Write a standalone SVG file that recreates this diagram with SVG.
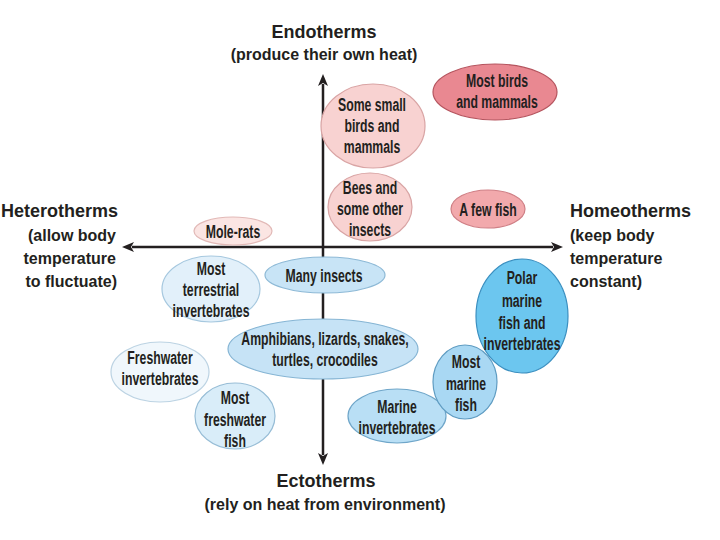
<svg xmlns="http://www.w3.org/2000/svg" width="720" height="540" viewBox="0 0 720 540">
<style>
.hd{font-family:"Liberation Sans",Arial,sans-serif;font-weight:bold;font-size:18px;fill:#231f20}
.sub{font-family:"Liberation Sans",Arial,sans-serif;font-weight:bold;font-size:16px;fill:#231f20}
.t{font-family:"Liberation Sans",Arial,sans-serif;font-weight:bold;font-size:19px;fill:#231f20;text-anchor:middle}
.ax{stroke:#231f20;stroke-width:2.5;fill:none}
ellipse{stroke-width:1.2}
</style>
<defs>
<marker id="ah" viewBox="0 0 12 10" refX="2" refY="5" markerWidth="12" markerHeight="10" markerUnits="userSpaceOnUse" orient="auto-start-reverse">
<path d="M0,0 L12,5 L0,10 L3,5 Z" fill="#231f20"/>
</marker>
</defs>
<rect width="720" height="540" fill="#ffffff"/>
<g id="connectors">
<line class="ax" x1="323" y1="455" x2="323" y2="84" marker-end="url(#ah)" marker-start="url(#ah)"/>
<line class="ax" x1="132" y1="247" x2="553" y2="247" marker-end="url(#ah)" marker-start="url(#ah)"/>
</g>
<g id="label-endotherms">
<text class="hd" x="324" y="38" text-anchor="middle">Endotherms</text>
<text class="sub" x="324" y="60" text-anchor="middle">(produce their own heat)</text>
</g>
<g id="label-heterotherms">
<text class="hd" x="118" y="217" text-anchor="end">Heterotherms</text>
<text class="sub" x="116" y="241" text-anchor="end">(allow body</text>
<text class="sub" x="116" y="264" text-anchor="end">temperature</text>
<text class="sub" x="117" y="287" text-anchor="end">to fluctuate)</text>
</g>
<g id="label-homeotherms">
<text class="hd" x="570" y="217">Homeotherms</text>
<text class="sub" x="570" y="241">(keep body</text>
<text class="sub" x="570" y="264">temperature</text>
<text class="sub" x="570" y="287">constant)</text>
</g>
<g id="label-ectotherms">
<text class="hd" x="326" y="487" text-anchor="middle">Ectotherms</text>
<text class="sub" x="325" y="510" text-anchor="middle">(rely on heat from environment)</text>
</g>
<g id="most-birds">
<ellipse cx="495" cy="92" rx="62" ry="28" fill="#e98891" stroke="#b5545e"/>
<g transform="translate(497,0) scale(0.645,1)">
<text class="t" x="0" y="87">Most birds</text>
<text class="t" x="0" y="108">and mammals</text>
</g>
</g>
<g id="some-small-birds">
<ellipse cx="373" cy="126" rx="52" ry="42" fill="#f8d2d1" stroke="#d9a4a4"/>
<g transform="translate(372,0) scale(0.645,1)">
<text class="t" x="0" y="111">Some small</text>
<text class="t" x="0" y="132">birds and</text>
<text class="t" x="0" y="153">mammals</text>
</g>
</g>
<g id="bees">
<ellipse cx="370" cy="207" rx="42" ry="34" fill="#f8d2d1" stroke="#d9a4a4"/>
<g transform="translate(370,0) scale(0.645,1)">
<text class="t" x="0" y="194">Bees and</text>
<text class="t" x="0" y="215">some other</text>
<text class="t" x="0" y="236">insects</text>
</g>
</g>
<g id="few-fish">
<ellipse cx="488" cy="209" rx="37" ry="19" fill="#f2a9ac" stroke="#cf7f85"/>
<g transform="translate(488,0) scale(0.645,1)">
<text class="t" x="0" y="216">A few fish</text>
</g>
</g>
<g id="mole-rats">
<ellipse cx="233" cy="231" rx="39" ry="14" fill="#fbe5e3" stroke="#e2b9b7"/>
<g transform="translate(233,0) scale(0.645,1)">
<text class="t" x="0" y="238">Mole-rats</text>
</g>
</g>
<g id="many-insects">
<ellipse cx="325" cy="275" rx="60" ry="18" fill="#c8e4f6" stroke="#8db9d6"/>
<g transform="translate(324,0) scale(0.645,1)">
<text class="t" x="0" y="282">Many insects</text>
</g>
</g>
<g id="terrestrial-inverts">
<ellipse cx="211" cy="289" rx="49" ry="33" fill="#e2f0fa" stroke="#a6c8df"/>
<g transform="translate(211,0) scale(0.645,1)">
<text class="t" x="0" y="275">Most</text>
<text class="t" x="0" y="296">terrestrial</text>
<text class="t" x="0" y="317">invertebrates</text>
</g>
</g>
<g id="amphibians">
<ellipse cx="323" cy="349" rx="95" ry="30" fill="#c6e3f6" stroke="#86b5d4"/>
<g transform="translate(325,0) scale(0.645,1)">
<text class="t" x="0" y="345">Amphibians, lizards, snakes,</text>
<text class="t" x="0" y="366">turtles, crocodiles</text>
</g>
</g>
<g id="freshwater-inverts">
<ellipse cx="160" cy="372" rx="49" ry="30" fill="#f0f7fc" stroke="#bcd3e3"/>
<g transform="translate(160,0) scale(0.645,1)">
<text class="t" x="0" y="364">Freshwater</text>
<text class="t" x="0" y="385">invertebrates</text>
</g>
</g>
<g id="freshwater-fish">
<ellipse cx="235" cy="416" rx="40" ry="33" fill="#d9edf9" stroke="#97bdd6"/>
<g transform="translate(235,0) scale(0.645,1)">
<text class="t" x="0" y="404">Most</text>
<text class="t" x="0" y="426">freshwater</text>
<text class="t" x="0" y="447">fish</text>
</g>
</g>
<g id="marine-inverts">
<ellipse cx="397" cy="416" rx="49" ry="27" fill="#b9dff5" stroke="#6fa6c9"/>
<g transform="translate(397,0) scale(0.645,1)">
<text class="t" x="0" y="413">Marine</text>
<text class="t" x="0" y="434">invertebrates</text>
</g>
</g>
<g id="marine-fish">
<ellipse cx="465" cy="382" rx="32" ry="37" fill="#a9d8f3" stroke="#5f9cc2"/>
<g transform="translate(466,0) scale(0.645,1)">
<text class="t" x="0" y="368">Most</text>
<text class="t" x="0" y="390">marine</text>
<text class="t" x="0" y="411">fish</text>
</g>
</g>
<g id="polar">
<ellipse cx="522" cy="316" rx="46" ry="57" fill="#6cc6ef" stroke="#3a8fc0"/>
<g transform="translate(522,0) scale(0.645,1)">
<text class="t" x="0" y="284">Polar</text>
<text class="t" x="0" y="307">marine</text>
<text class="t" x="0" y="329">fish and</text>
<text class="t" x="0" y="350">invertebrates</text>
</g>
</g>
</svg>
